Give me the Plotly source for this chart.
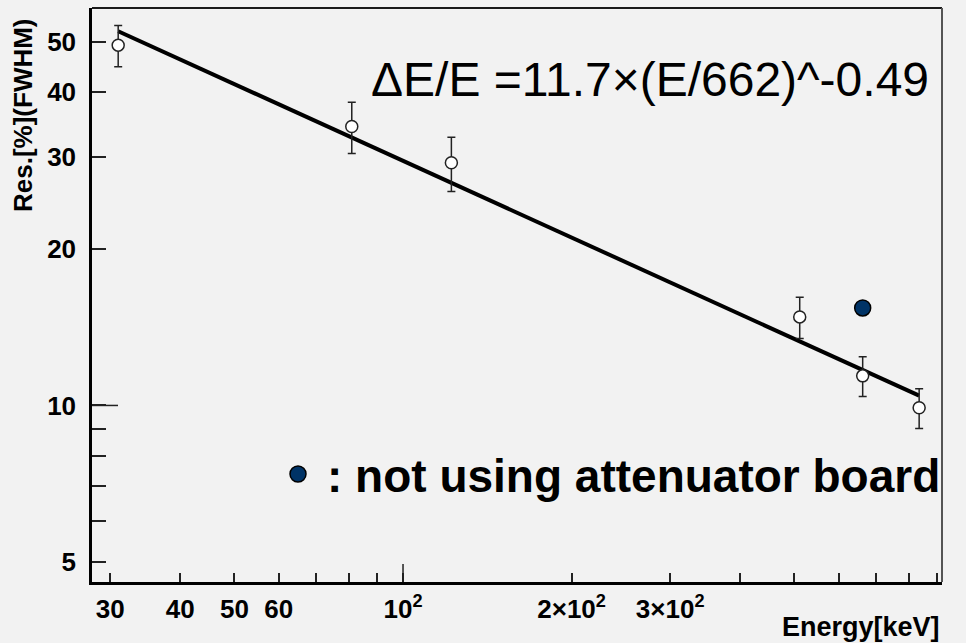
import numpy as np
import plotly.graph_objects as go

# Measured energy resolution vs. photon energy
energy_kev = [31, 81, 122, 511, 662, 835]
resolution_pct = [49.3, 34.4, 29.3, 14.8, 11.4, 9.9]
resolution_err = [4.5, 3.9, 3.5, 1.35, 1.0, 0.87]

# Point taken without the attenuator board
no_board_energy = [662]
no_board_res = [15.4]

# Power-law fit: dE/E = A * (E/E0)^p
fit_A = 11.7
fit_E0 = 662
fit_p = -0.49
fit_energy = [31, 835]
fit_res = [fit_A * (e / fit_E0) ** fit_p for e in fit_energy]

x_tickvals = [30, 40, 50, 60, 100, 200, 300]
x_ticktext = ["30", "40", "50", "60", "10<sup>2</sup>", "2×10<sup>2</sup>", "3×10<sup>2</sup>"]
x_minor = [70, 80, 90, 400, 500, 600, 700, 800, 900]
y_tickvals = [5, 10, 20, 30, 40, 50]
y_ticktext = ["5", "10", "20", "30", "40", "50"]
y_minor = [6, 7, 8, 9]

BG = "#f2f2f2"
FONT = "Liberation Sans"

fig = go.Figure()

fig.add_trace(go.Scatter(
    x=fit_energy, y=fit_res, mode="lines",
    line=dict(color="black", width=4), showlegend=False, hoverinfo="skip",
))

fig.add_trace(go.Scatter(
    x=energy_kev, y=resolution_pct, mode="markers",
    error_y=dict(type="data", array=resolution_err, color="#222222",
                 thickness=1.5, width=4),
    marker=dict(symbol="circle", size=12, color="white",
                line=dict(color="#222222", width=1.5)),
    showlegend=False,
))

fig.add_trace(go.Scatter(
    x=no_board_energy, y=no_board_res, mode="markers",
    marker=dict(symbol="circle", size=16, color="#003366",
                line=dict(color="black", width=1.5)),
    showlegend=False,
))

tick_font = dict(family=FONT, size=26, color="black", weight="bold")

fig.update_xaxes(
    type="log", range=[1.4446, 2.9625],
    tickmode="array", tickvals=x_tickvals, ticktext=x_ticktext,
    ticks="inside", ticklen=9, tickwidth=1.5, tickcolor="#222222",
    minor=dict(tickmode="array", tickvals=x_minor, ticks="inside",
               ticklen=9, tickwidth=1.5, tickcolor="#222222", showgrid=False),
    showline=True, linecolor="black", linewidth=2.5, mirror=False,
    showgrid=False, zeroline=False, tickfont=tick_font,
    ticklabelstandoff=2,
)
fig.update_yaxes(
    type="log", range=[0.6605, 1.7643],
    tickmode="array", tickvals=y_tickvals, ticktext=y_ticktext,
    ticks="inside", ticklen=14, tickwidth=1.5, tickcolor="#222222",
    minor=dict(tickmode="array", tickvals=y_minor, ticks="inside",
               ticklen=14, tickwidth=1.5, tickcolor="#222222", showgrid=False),
    showline=True, linecolor="black", linewidth=2.5, mirror=False,
    showgrid=False, zeroline=False, tickfont=tick_font,
    ticklabelstandoff=8,
)

shapes = [
    # longer tick marks at the decades
    dict(type="line", xref="x", yref="paper", x0=100, x1=100, y0=0,
         y1=18 / 574, line=dict(color="#222222", width=1.5)),
    dict(type="line", xref="paper", yref="y", x0=0, x1=26 / 850, y0=10,
         y1=10, line=dict(color="#222222", width=1.5)),
    # top and right edges of the frame
    dict(type="line", xref="paper", yref="paper", x0=0, x1=1, y0=1, y1=1,
         line=dict(color="#1a1a1a", width=2)),
    dict(type="line", xref="paper", yref="paper", x0=1, x1=1, y0=0, y1=1,
         line=dict(color="#555555", width=2)),
    # marker used in the note
    dict(type="circle", xref="paper", yref="paper",
         xsizemode="pixel", ysizemode="pixel",
         xanchor=(298 - 92) / 850, yanchor=1 - (474 - 8) / 574,
         x0=-8, x1=8, y0=-8, y1=8,
         fillcolor="#003366", line=dict(color="black", width=1.5)),
]

annotations = [
    dict(text="ΔE/E =11.7×(E/662)^-0.49", xref="paper", yref="paper",
         x=(649.5 - 92) / 850, y=1 - (79.5 - 8) / 574,
         xanchor="center", yanchor="middle", showarrow=False,
         font=dict(family=FONT, size=48, color="black")),
    dict(text=": not using attenuator board", xref="paper", yref="paper",
         x=(325 - 92) / 850, y=1 - (475.5 - 8) / 574,
         xanchor="left", yanchor="middle", showarrow=False,
         font=dict(family=FONT, size=46, color="black", weight="bold")),
    dict(text="Energy[keV]", xref="paper", yref="paper",
         x=1, y=0, yshift=-45, xanchor="right", yanchor="middle",
         showarrow=False,
         font=dict(family=FONT, size=27, color="black", weight="bold")),
    dict(text="Res.[%](FWHM)", xref="paper", yref="paper",
         x=0, xshift=-69, y=1, yshift=-107, textangle=-90,
         xanchor="center", yanchor="middle", showarrow=False,
         font=dict(family=FONT, size=26, color="black", weight="bold")),
]

fig.update_layout(
    width=966, height=643,
    margin=dict(l=92, r=24, t=8, b=61),
    paper_bgcolor=BG, plot_bgcolor=BG,
    shapes=shapes, annotations=annotations,
    showlegend=False,
)

fig.write_html("out.html")
